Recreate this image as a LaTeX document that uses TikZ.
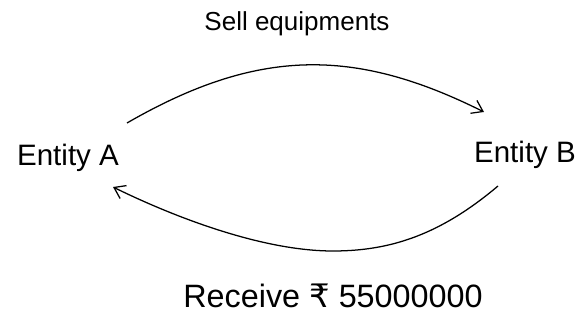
\documentclass[tikz,border=0pt]{standalone}
\usepackage{fontspec}
\setmainfont{Liberation Sans}
\newfontfamily\rupeefont{DejaVu Sans}
\usetikzlibrary{arrows.meta}

\begin{document}
\begin{tikzpicture}[x=0.025cm, y=-0.025cm, >={Straight Barb[length=2.6mm,width=3.6mm]}]
    % 画布大小
    \useasboundingbox (0,0) rectangle (585,320);

    % 两个实体
    \node (entA) at (68,158) {\fontsize{21}{23}\selectfont Entity A};
    \node (entB) at (525,155) {\fontsize{21}{23}\selectfont Entity B};

    % 标注文字
    \node (sell) at (297,24) {\fontsize{18.5}{20}\selectfont Sell equipments};
    \node (recv) at (333,296) {\fontsize{23}{25}\selectfont Receive {\rupeefont ₹} 55000000};

    % 曲线端点
    \coordinate (aOut) at (127,123);
    \coordinate (bIn) at (484,112);
    \coordinate (bOut) at (498,186);
    \coordinate (aIn) at (113,187);

    % 上方箭头 A -> B
    \draw[line width=0.9pt, ->] (aOut) .. controls (257,48) and (354,47) .. (bIn);

    % 下方箭头 B -> A
    \draw[line width=0.9pt, ->] (bOut) .. controls (440,235) and (390,251) .. (333,251)
        .. controls (260,251) and (170,215) .. (aIn);
\end{tikzpicture}
\end{document}
